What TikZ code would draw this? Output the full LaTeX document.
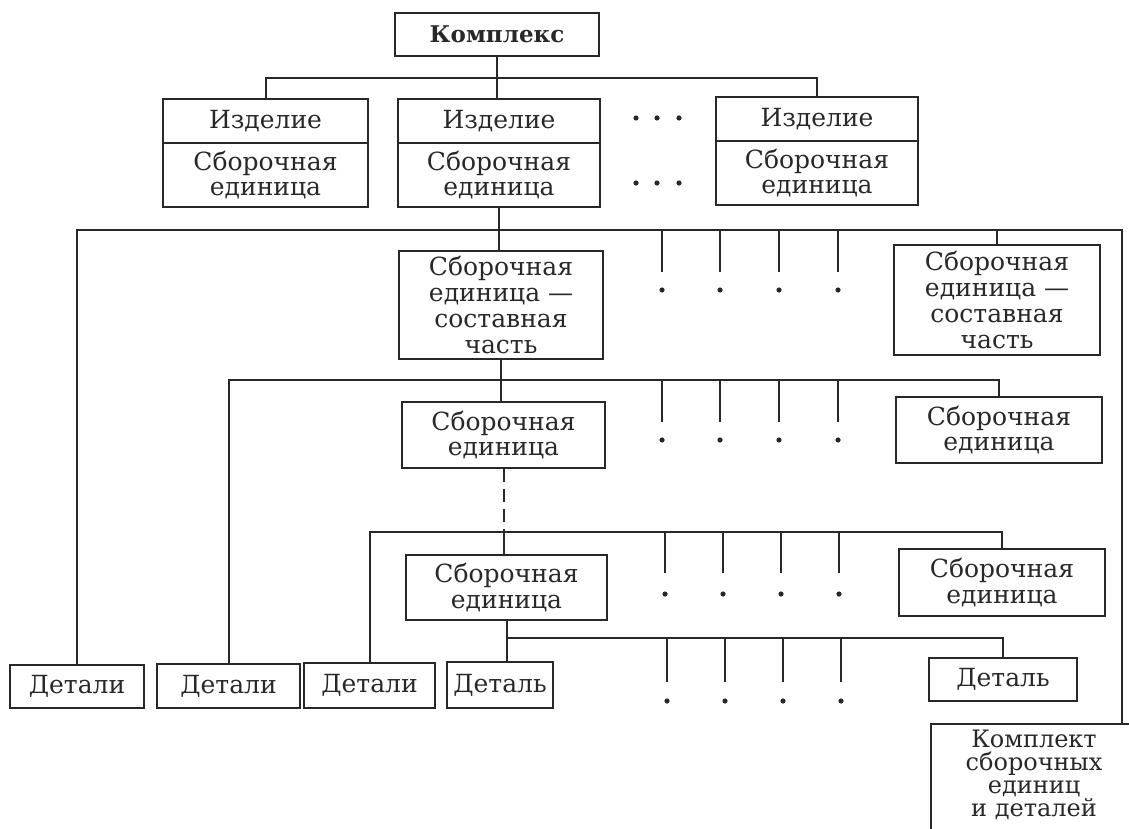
\documentclass[tikz,border=0pt]{standalone}
\usepackage{fontspec}
\setmainfont{DejaVu Serif}
\definecolor{ink}{RGB}{40,40,40}
\tikzset{
  x=0.5pt, y=-0.5pt,
  bx/.style 2 args={draw=ink, line width=1pt, text=ink, align=center, inner sep=0pt,
    minimum width=#1*0.5pt, minimum height=#2*0.5pt,
    font=\fontsize{12.5pt}{12.9pt}\selectfont},
  txt/.style={text=ink, align=center, inner sep=0pt, font=\fontsize{12pt}{11.6pt}\selectfont},
  ln/.style={draw=ink, line width=1pt},
  tdot/.style={fill=ink, draw=none, circle, inner sep=0pt, minimum size=2.6pt}
}
\begin{document}
\begin{tikzpicture}
\useasboundingbox (0,0) rectangle (1129,829);
% row 0
\node[bx={204}{43}, font=\bfseries\fontsize{11.5pt}{12pt}\selectfont] (k) at (497,34.5) {Комплекс};
% row 1
\node[bx={205}{44}] (i1) at (265.5,121) {Изделие};
\node[bx={205}{64}] (s1) at (265.5,175) {Сборочная\\единица};
\node[bx={202}{44}] (i2) at (499,121) {Изделие};
\node[bx={202}{64}] (s2) at (499,175) {Сборочная\\единица};
\node[bx={202}{44}] (i3) at (817,119) {Изделие};
\node[bx={202}{64}] (s3) at (817,173) {Сборочная\\единица};
% row 2
\node[bx={204}{108}] (c2) at (501,305) {Сборочная\\единица ---\\составная\\часть};
\node[bx={206}{110}] (c2r) at (997,300) {Сборочная\\единица ---\\составная\\часть};
% row 3
\node[bx={203}{66}] (u3) at (503.5,435) {Сборочная\\единица};
\node[bx={206}{66}] (u3r) at (999,430) {Сборочная\\единица};
% row 4
\node[bx={201}{65}] (u4) at (506.5,587.5) {Сборочная\\единица};
\node[bx={206}{67}] (u4r) at (1002,582.5) {Сборочная\\единица};
% row 5
\node[bx={148}{43}] (detr) at (1003,679.5) {Деталь};
\node[bx={134}{43}] (d1) at (77,686.5) {Детали};
\node[bx={143}{44}] (d2) at (228.5,686) {Детали};
\node[bx={131}{45}] (d3) at (369.5,685.5) {Детали};
\node[bx={106}{46}] (det) at (500,685) {Деталь};
% Komplekt (cut by the page edge)
\node[bx={212}{150}, anchor=north west] (kmp) at (930,723) {};
\node[txt] (kmpt) at (1034,775) {Комплект\\сборочных\\единиц\\и деталей};

% bus levels
\coordinate (b1) at (0,78);
\coordinate (b2) at (0,230);
\coordinate (b3) at (0,380);
\coordinate (b4) at (0,532);
\coordinate (b5) at (0,638);
\coordinate (rc) at (1122,230);

% level 1
\draw[ln] (k.south) -- (k.south |- i2.north);
\draw[ln] (i1.north) -- (i1.north |- b1) -- (i3.north |- b1) -- (i3.north);
\foreach \x in {636,657,679} {
  \node[tdot] at (\x,118) {};
  \node[tdot] at (\x,183) {};
}
% level 2
\draw[ln] (s2.south) -- (s2.south |- c2.north);
\draw[ln] (d1.north) -- (d1.north |- b2) -- (rc) -- (rc |- kmp.north);
\draw[ln] (c2r.north |- b2) -- (c2r.north);
\foreach \x in {662,720,779,838} {
  \draw[ln] (\x,0 |- b2) -- ++(0,42);
  \node[tdot] at (\x,290) {};
}
% level 3
\draw[ln] (c2.south) -- (c2.south |- u3.north);
\draw[ln] (d2.north) -- (d2.north |- b3) -- (u3r.north |- b3) -- (u3r.north);
\foreach \x in {662,720,779,838} {
  \draw[ln] (\x,0 |- b3) -- ++(0,42);
  \node[tdot] at (\x,440) {};
}
% level 4
\draw[ln, dash pattern=on 6.5pt off 3.5pt] (u3.south) -- (u3.south |- b4);
\draw[ln] (u3.south |- b4) -- (u3.south |- u4.north);
\draw[ln] (d3.north) -- (d3.north |- b4) -- (u4r.north |- b4) -- (u4r.north);
\foreach \x in {665,723,781,839} {
  \draw[ln] (\x,0 |- b4) -- ++(0,41);
  \node[tdot] at (\x,594) {};
}
% level 5
\draw[ln] (u4.south) -- (u4.south |- det.north);
\draw[ln] (u4.south |- b5) -- (detr.north |- b5) -- (detr.north);
\foreach \x in {667,725,783,841} {
  \draw[ln] (\x,0 |- b5) -- ++(0,44);
  \node[tdot] at (\x,701) {};
}
\end{tikzpicture}
\end{document}
